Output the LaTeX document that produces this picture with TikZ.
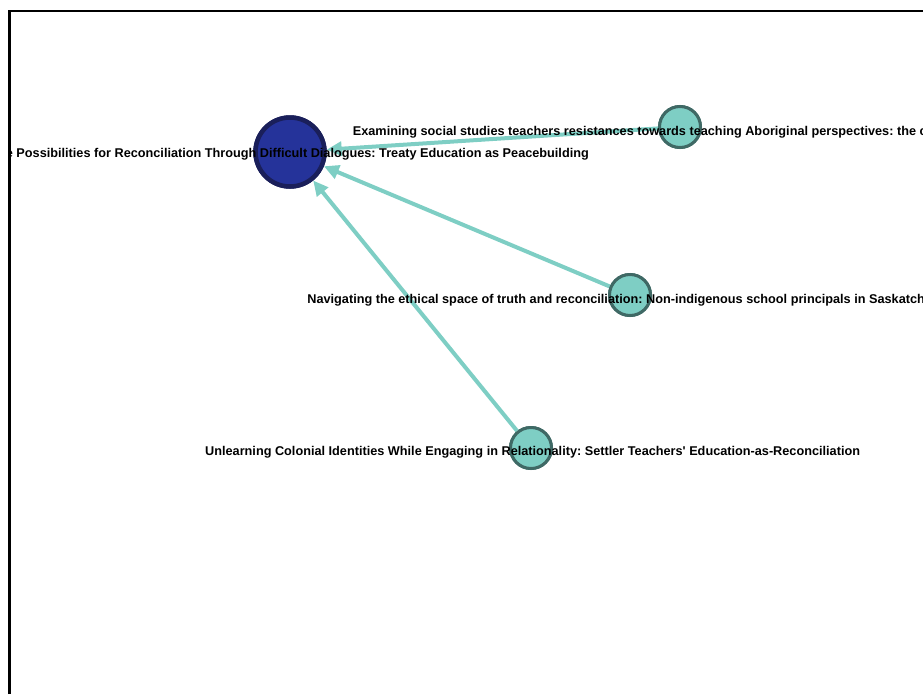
\documentclass[tikz,border=0pt]{standalone}
\usepackage{fontspec}
\setmainfont{Liberation Sans}
\usetikzlibrary{arrows.meta}
\frenchspacing
\definecolor{hubfill}{HTML}{25339A}
\definecolor{hubline}{HTML}{1A1F5A}
\definecolor{leaffill}{HTML}{7ECEC4}
\definecolor{leafline}{HTML}{3F6965}
\definecolor{edgecol}{HTML}{7ECEC4}
\tikzset{
  hub/.style={circle, fill=hubfill, draw=hubline, line width=4.5pt, minimum size=69pt, inner sep=0pt},
  leaf/.style={circle, fill=leaffill, draw=leafline, line width=3pt, minimum size=41pt, inner sep=0pt},
  link/.style={draw=edgecol, line width=4pt, -{Triangle[length=15pt,width=14pt]}},
  lbl/.style={font=\bfseries\fontsize{12.7}{14}\selectfont, inner sep=0pt, text=black},
  frameline/.style={draw=black, line width=2.6pt}
}
\begin{document}
\begin{tikzpicture}[x=1pt, y=-1pt]
\useasboundingbox (0,0) rectangle (923,694);
\begin{scope}
\clip (10.5,11.5) rectangle (923,694);
% nodes, then the connectors between them
\node[hub] (hub) at (290,152) {};
\node[leaf] (na) at (680,127) {};
\node[leaf] (nb) at (630,295) {};
\node[leaf] (nc) at (531,448) {};
\draw[link] (na) -- (hub);
\draw[link] (nb) -- (hub);
\draw[link] (nc) -- (hub);
% redraw circles above the connectors
\node[hub] at (hub) {};
\node[leaf] at (na) {};
\node[leaf] at (nb) {};
\node[leaf] at (nc) {};
% titles
\node[lbl, anchor=base east] (thub) at (589,157.5) {e Possibilities for Reconciliation Through Difficult Dialogues: Treaty Education as Peacebuilding};
\node[lbl, anchor=base west] (ta) at (352.7,135) {Examining social studies teachers resistances towards teaching Aboriginal perspectives: the c};
\node[lbl, anchor=base west] (tb) at (307.2,303.5) {Navigating the ethical space of truth and reconciliation: Non-indigenous school principals in Saskatch};
\node[lbl, anchor=base west] (tc) at (205,455.5) {Unlearning Colonial Identities While Engaging in Relationality: Settler Teachers\textquotesingle{} Education-as-Reconciliation};
\end{scope}
% plot frame
\draw[frameline] (9.5,694) -- (9.5,11) -- (923,11);
\end{tikzpicture}
\end{document}
